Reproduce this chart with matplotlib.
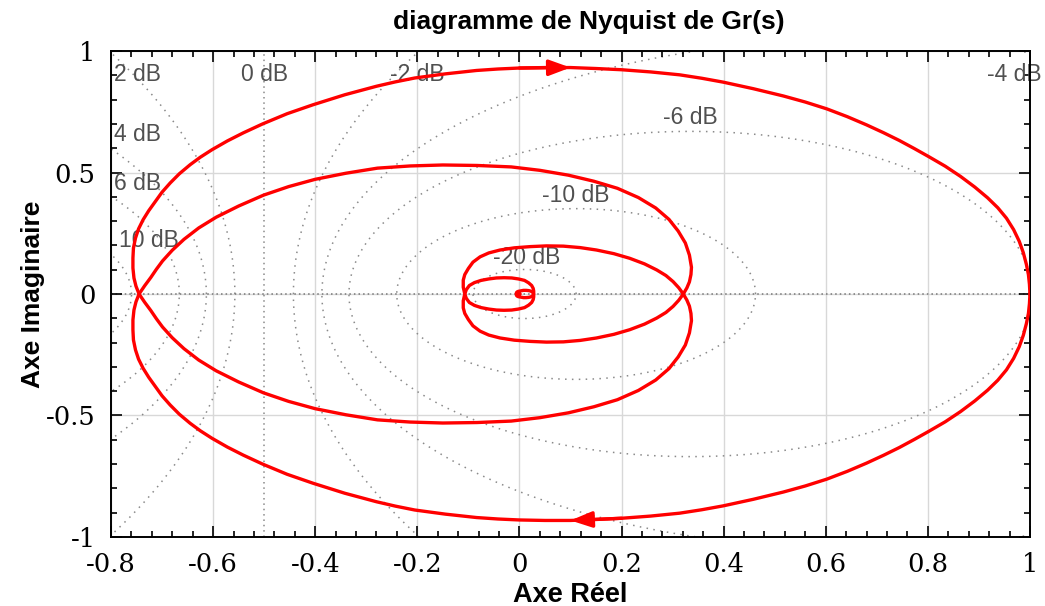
import numpy as np
import matplotlib.pyplot as plt
from matplotlib.ticker import MultipleLocator, FuncFormatter

plt.rcParams['axes.unicode_minus'] = False

# Gr(jw) for w > 0 : real and imaginary parts along the spiral
re_pos = [1.000, 0.999, 0.997, 0.993, 0.987, 0.979, 0.968, 0.954, 0.937, 0.917,
          0.892, 0.864, 0.834, 0.802, 0.774, 0.744, 0.713, 0.680, 0.642, 0.602,
          0.560, 0.517, 0.458, 0.399, 0.357, 0.314, 0.257, 0.200, 0.150, 0.100,
          0.050, 0.000, -0.042, -0.084, -0.145, -0.205, -0.243, -0.280, -0.342, -0.404,
          -0.455, -0.503, -0.541, -0.572, -0.602, -0.625, -0.645, -0.666, -0.684, -0.700,
          -0.713, -0.726, -0.737, -0.746, -0.752, -0.756, -0.757, -0.757, -0.755, -0.751,
          -0.745, -0.734, -0.722, -0.711, -0.699, -0.680, -0.657, -0.628, -0.594, -0.550,
          -0.501, -0.452, -0.400, -0.340, -0.278, -0.214, -0.150, -0.083, -0.016, 0.040,
          0.096, 0.146, 0.192, 0.233, 0.267, 0.293, 0.311, 0.325, 0.333, 0.337,
          0.336, 0.333, 0.328, 0.321, 0.312, 0.301, 0.287, 0.269, 0.245, 0.216,
          0.185, 0.151, 0.119, 0.086, 0.053, 0.021, -0.010, -0.038, -0.060, -0.077,
          -0.091, -0.100, -0.107, -0.110, -0.110, -0.107, -0.104, -0.098, -0.088, -0.075,
          -0.060, -0.045, -0.030, -0.015, -0.002, 0.010, 0.018, 0.024, 0.027, 0.028,
          0.028, 0.026, 0.022, 0.018, 0.013, 0.008, 0.003, -0.002, -0.005, -0.006,
          -0.006, -0.005, -0.003, -0.001, 0.001, 0.000]
im_pos = [0.000, -0.040, -0.080, -0.122, -0.170, -0.217, -0.265, -0.312, -0.355, -0.396,
          -0.440, -0.484, -0.526, -0.565, -0.598, -0.632, -0.664, -0.696, -0.730, -0.762,
          -0.790, -0.815, -0.845, -0.872, -0.888, -0.902, -0.914, -0.923, -0.928, -0.932,
          -0.932, -0.930, -0.926, -0.920, -0.906, -0.889, -0.873, -0.855, -0.820, -0.779,
          -0.742, -0.700, -0.663, -0.630, -0.594, -0.563, -0.532, -0.495, -0.457, -0.419,
          -0.381, -0.343, -0.306, -0.268, -0.230, -0.189, -0.148, -0.107, -0.066, -0.032,
          0.000, 0.034, 0.068, 0.102, 0.136, 0.180, 0.225, 0.272, 0.316, 0.362,
          0.407, 0.442, 0.472, 0.497, 0.518, 0.527, 0.531, 0.529, 0.523, 0.509,
          0.489, 0.464, 0.435, 0.397, 0.354, 0.307, 0.259, 0.210, 0.160, 0.110,
          0.080, 0.050, 0.025, 0.000, -0.026, -0.051, -0.076, -0.099, -0.124, -0.147,
          -0.166, -0.181, -0.191, -0.197, -0.198, -0.195, -0.190, -0.181, -0.169, -0.153,
          -0.131, -0.105, -0.080, -0.057, -0.028, 0.000, 0.018, 0.035, 0.047, 0.056,
          0.062, 0.066, 0.067, 0.066, 0.062, 0.056, 0.046, 0.035, 0.023, 0.012,
          0.002, -0.008, -0.012, -0.014, -0.015, -0.015, -0.013, -0.011, -0.008, -0.004,
          -0.001, 0.001, 0.003, 0.003, 0.001, 0.000]

# iso-gain circles of the closed loop (dB)
m_db = [-20, -10, -6, -4, -2, 0, 2, 4, 6, 10, 20]
# where each circle gets its text
lbl_db = [2, 4, 6, 10, 0, -2, -4, -6, -10, -20]
lbl_xy = [(-0.795, 0.905), (-0.795, 0.655), (-0.795, 0.455), (-0.785, 0.222),
          (-0.5, 0.905), (-0.2, 0.905), (0.97, 0.905), (0.335, 0.728),
          (0.11, 0.405), (0.015, 0.152)]
lbl_ha = ['left', 'left', 'left', 'left', 'center', 'center', 'center', 'center',
          'center', 'center']

xticks = [-0.8, -0.6, -0.4, -0.2, 0, 0.2, 0.4, 0.6, 0.8, 1]
yticks = [-1, -0.5, 0, 0.5, 1]

fig = plt.figure(figsize=(10.45, 6.06), dpi=100)
ax = fig.add_axes([0.1062, 0.1139, 0.8794, 0.8019])

# grid lines behind everything
for xv in xticks:
    ax.axvline(xv, color='#d8d8d8', lw=1.0, zorder=0)
for yv in yticks:
    ax.axhline(yv, color='#d8d8d8', lw=1.0, zorder=0)

# M circles
t = np.linspace(0, 2 * np.pi, 800)
for db in m_db:
    if db == 0:
        ax.axvline(-0.5, color='#8a8a8a', lw=1.1, ls=(0, (1, 2.5)), zorder=1)
        continue
    M = 10 ** (db / 20.0)
    c = M ** 2 / (1 - M ** 2)
    r = abs(M / (1 - M ** 2))
    ax.plot(c + r * np.cos(t), r * np.sin(t), color='#8a8a8a', lw=1.1,
            ls=(0, (1, 3.5)), zorder=1)
ax.axhline(0, color='#777777', lw=1.1, ls=(0, (1, 2)), zorder=1)

for db, (lx, ly), ha in zip(lbl_db, lbl_xy, lbl_ha):
    ax.text(lx, ly, '%d dB' % db, ha=ha, va='center', fontsize=16.5,
            color='#505050', family='Liberation Sans', clip_on=False, zorder=2)

# positive and negative frequency branches
re_pos = np.array(re_pos)
im_pos = np.array(im_pos)
ax.plot(re_pos, im_pos, color='red', lw=2.4, solid_joinstyle='round', zorder=3)
ax.plot(re_pos, -im_pos, color='red', lw=2.4, solid_joinstyle='round', zorder=3)

# direction arrows
arr = dict(arrowstyle='-|>,head_length=0.65,head_width=0.24', color='red', lw=2.4,
           mutation_scale=20, shrinkA=0, shrinkB=0)
ax.annotate('', xy=(re_pos[29], im_pos[29]), xytext=(re_pos[27], im_pos[27]),
            arrowprops=arr, zorder=4)
ax.annotate('', xy=(re_pos[29], -im_pos[29]), xytext=(re_pos[31], -im_pos[31]),
            arrowprops=arr, zorder=4)

ax.set_xlim(-0.8, 1)
ax.set_ylim(-1, 1)
ax.set_xticks(xticks)
ax.set_yticks(yticks)
ax.xaxis.set_minor_locator(MultipleLocator(0.04))
ax.yaxis.set_minor_locator(MultipleLocator(0.1))
fmt = FuncFormatter(lambda v, p: '%g' % round(v, 2))
ax.xaxis.set_major_formatter(fmt)
ax.yaxis.set_major_formatter(fmt)
ax.tick_params(which='both', direction='in', top=True, right=True, width=1.2)
ax.tick_params(which='major', length=8, labelsize=18.5, pad=11)
ax.tick_params(which='minor', length=4.5)
for lab in ax.get_xticklabels() + ax.get_yticklabels():
    lab.set_family('DejaVu Serif')
for sp in ax.spines.values():
    sp.set_linewidth(1.4)

fig.text(0.563, 0.963, 'diagramme de Nyquist de Gr(s)', fontsize=19, fontweight='bold',
         family='Liberation Sans', ha='center', va='center')
ax.set_xlabel('Axe Réel', fontsize=19.5, fontweight='bold', family='Liberation Sans')
ax.xaxis.set_label_coords(0.5, -0.092)
ax.set_ylabel('Axe Imaginaire', fontsize=19, fontweight='bold',
              family='Liberation Sans')
ax.yaxis.set_label_coords(-0.072, 0.5)

fig.savefig('out.png', dpi=100)
